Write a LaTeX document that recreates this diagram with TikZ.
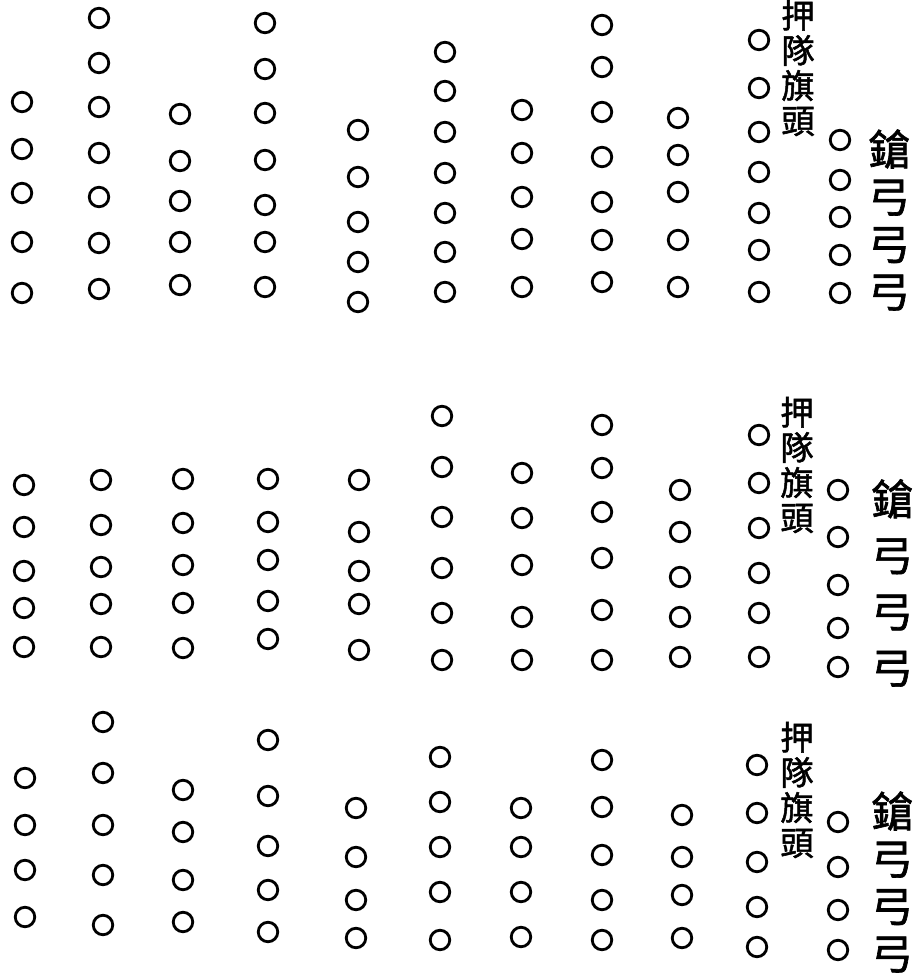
\documentclass[tikz,border=0pt]{standalone}
\usepackage{fontspec}
\newfontfamily\cjk[FakeBold=1.5]{Noto Sans CJK TC}

\begin{document}
\begin{tikzpicture}[
  x=0.02cm, y=-0.02cm,
  pt/.style={draw, circle, line width=1.6pt, minimum size=0.39cm, inner sep=0pt},
  qitou/.style={align=center, inner sep=0pt, font=\cjk\fontsize{19}{20}\selectfont},
  gongqiang/.style={align=center, inner sep=0pt, font=\cjk\fontsize{24}{#1}\selectfont},
  gongqiang/.default=27
]
\useasboundingbox (0,0) rectangle (913,977);

% first band
\foreach \cx/\ylist [count=\i] in {22/{102,149,193,242,293}, 99/{18,63,107,153,197,243,289},
    180/{114,161,201,242,285}, 265/{23,69,113,160,205,242,287}, 358/{130,177,222,262,302},
    445/{52,91,132,173,213,252,292}, 522/{110,153,197,239,287}, 602/{25,67,112,157,202,240,282},
    678/{118,155,192,240,287}, 759/{40,88,132,172,213,250,292}, 840/{140,180,217,255,293}}
  \foreach \cy [count=\j] in \ylist
    \node[pt] (a-\i-\j) at (\cx,\cy) {};
\node[qitou] (qa) at (798,68) {押\\隊\\旗\\頭};
\node[gongqiang] (ga) at (889,220) {鎗\\弓\\弓\\弓};

% second band
\foreach \cx/\ylist [count=\i] in {24/{485,527,571,608,647}, 101/{480,525,567,604,647},
    183/{479,523,565,603,648}, 268/{479,522,560,601,639}, 359/{480,532,571,604,650},
    442/{416,467,517,568,613,660}, 522/{473,518,565,617,660}, 602/{425,468,512,558,610,660},
    680/{490,532,577,617,657}, 759/{435,483,528,573,613,657}, 838/{490,537,585,628,667}}
  \foreach \cy [count=\j] in \ylist
    \node[pt] (b-\i-\j) at (\cx,\cy) {};
\node[qitou] (qb) at (797,465) {押\\隊\\旗\\頭};
\node[gongqiang=32] (gb) at (892,583) {鎗\\弓\\弓\\弓};

% third band
\foreach \cx/\ylist [count=\i] in {25/{778,825,870,917}, 103/{722,773,825,875,925},
    183/{790,832,880,922}, 268/{740,796,846,890,932}, 356/{808,857,900,938},
    440/{757,802,847,892,940}, 521/{808,847,892,937}, 602/{760,807,855,900,940},
    682/{815,857,895,938}, 757/{765,813,862,907,947}, 838/{822,867,910,950}}
  \foreach \cy [count=\j] in \ylist
    \node[pt] (c-\i-\j) at (\cx,\cy) {};
\node[qitou] (qc) at (797,790) {押\\隊\\旗\\頭};
\node[gongqiang] (gc) at (892,882) {鎗\\弓\\弓\\弓};
\end{tikzpicture}
\end{document}
